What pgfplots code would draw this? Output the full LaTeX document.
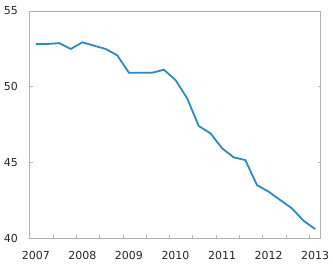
\documentclass[border=0pt]{standalone}
\usepackage{pgfplots}
\pgfplotsset{compat=1.18}
\usepackage{fontspec}
\setmainfont{DejaVu Sans}
\definecolor{frame}{RGB}{178,178,178}
\definecolor{line}{RGB}{43,139,192}
\begin{document}
\begin{tikzpicture}
\useasboundingbox (-30pt,-31pt) rectangle (303pt,238pt);
\begin{axis}[
  at={(0pt,0pt)}, anchor=south west,
  scale only axis, width=291pt, height=227pt,
  xmin=-0.5, xmax=24.5, ymin=40, ymax=55,
  ytick={40,45,50,55},
  xtick={1.5,3.5,...,23.5}, xticklabels={},
  extra x ticks={0,4,8,12,16,20,24},
  extra x tick labels={2007,2008,2009,2010,2011,2012,2013},
  extra x tick style={major tick length=0pt},
  xtick pos=bottom, ytick pos=both,
  tick align=inside, major tick length=3pt,
  axis line style={frame, line width=1pt},
  tick style={frame, line width=1pt},
  /pgf/number format/assume math mode=true,
  ticklabel style={font=\fontsize{11}{13}\selectfont, inner sep=0pt, text=black!85},
  yticklabel style={anchor=east, xshift=-12pt},
  xticklabel style={anchor=north, yshift=-13.5pt},
  clip=false,
]
\addplot[line, line width=1.8pt, line join=round] coordinates {
(0,52.82) (1,52.82) (2,52.88) (3,52.49) (4,52.93) (5,52.71) (6,52.49) (7,52.07)
(8,50.92) (9,50.92) (10,50.92) (11,51.12) (12,50.44) (13,49.23) (14,47.4)
(15,46.92) (16,45.93) (17,45.33) (18,45.15) (19,43.5) (20,43.06) (21,42.51)
(22,41.96) (23,41.14) (24,40.59)
};
\end{axis}
\end{tikzpicture}
\end{document}
